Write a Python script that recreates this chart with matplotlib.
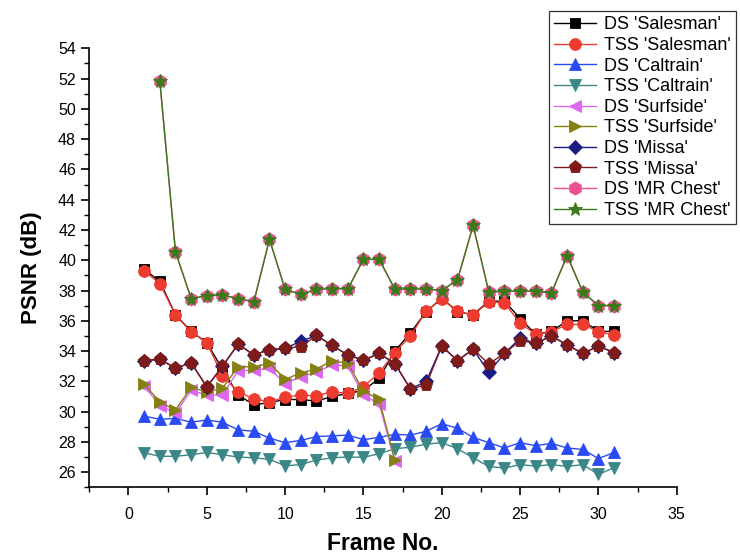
import numpy as np
import matplotlib.pyplot as plt
from matplotlib.ticker import MultipleLocator

plt.rcParams['font.family'] = ['Liberation Sans', 'DejaVu Sans']

# frame numbers
frames = list(range(1, 32))
frames_surf = list(range(1, 18))
frames_chest = list(range(2, 32))

# PSNR values (dB)
ds_salesman = [39.4, 38.6, 36.4, 35.3, 34.55, 32.8, 31.1, 30.45, 30.6, 30.8, 30.8,
               30.7, 31.0, 31.2, 31.4, 32.2, 34.0, 35.2, 36.6, 37.5, 36.6, 36.4,
               37.3, 37.3, 36.15, 35.1, 35.3, 36.0, 36.0, 35.3, 35.3]
tss_salesman = [39.3, 38.46, 36.37, 35.28, 34.55, 32.36, 31.32, 30.84, 30.66, 30.95,
                31.1, 31.04, 31.32, 31.2, 31.65, 32.57, 33.9, 35.0, 36.64, 37.43,
                36.64, 36.37, 37.25, 37.19, 35.83, 35.12, 35.28, 35.76, 35.76,
                35.28, 35.06]
ds_caltrain = [29.7, 29.5, 29.55, 29.3, 29.45, 29.3, 28.8, 28.7, 28.25, 27.95, 28.1,
               28.35, 28.4, 28.45, 28.15, 28.3, 28.5, 28.45, 28.7, 29.2, 28.9, 28.3,
               27.95, 27.6, 27.95, 27.75, 27.9, 27.6, 27.5, 26.9, 27.3]
tss_caltrain = [27.28, 27.05, 27.05, 27.15, 27.3, 27.15, 27.0, 26.95, 26.85, 26.42,
                26.5, 26.8, 26.95, 27.0, 26.98, 27.22, 27.55, 27.65, 27.85, 27.95,
                27.55, 26.95, 26.38, 26.27, 26.5, 26.4, 26.5, 26.38, 26.5, 25.85, 26.3]
ds_surfside = [31.7, 30.4, 29.9, 31.4, 31.1, 31.1, 32.7, 32.75, 32.85, 31.85, 32.3,
               32.6, 33.1, 33.0, 31.1, 30.5, 26.75]
tss_surfside = [31.83, 30.63, 30.1, 31.6, 31.3, 31.55, 32.97, 32.95, 33.2, 32.14,
                32.55, 32.83, 33.35, 33.19, 31.35, 30.82, 26.82]
ds_missa = [33.34, 33.48, 32.86, 33.23, 31.63, 33.0, 34.46, 33.74, 34.1, 34.18, 34.65,
            35.03, 34.37, 33.74, 33.39, 33.85, 33.17, 31.5, 32.0, 34.33, 33.37,
            34.12, 32.6, 33.85, 34.85, 34.51, 35.0, 34.4, 33.85, 34.33, 33.9]
tss_missa = [33.34, 33.48, 32.86, 33.23, 31.63, 33.0, 34.46, 33.74, 34.1, 34.18, 34.3,
             35.03, 34.37, 33.74, 33.39, 33.85, 33.17, 31.5, 31.76, 34.33, 33.37,
             34.12, 33.15, 33.85, 34.69, 34.51, 35.0, 34.4, 33.85, 34.33, 33.9]
mr_chest = [51.86, 40.55, 37.47, 37.65, 37.7, 37.47, 37.25, 41.38, 38.07, 37.76,
            38.07, 38.13, 38.1, 40.06, 40.06, 38.09, 38.1, 38.1, 38.0, 38.7, 42.3,
            37.9, 37.95, 37.95, 37.95, 37.85, 40.3, 37.9, 37.0, 37.0]

series = [
    ("DS 'Salesman'", frames, ds_salesman, 's', '#000000', 7.5),
    ("TSS 'Salesman'", frames, tss_salesman, 'o', '#ee3b2f', 8.5),
    ("DS 'Caltrain'", frames, ds_caltrain, '^', '#2a4bf4', 8.5),
    ("TSS 'Caltrain'", frames, tss_caltrain, 'v', '#3b8686', 8.5),
    ("DS 'Surfside'", frames_surf, ds_surfside, '<', '#dd66f0', 8.5),
    ("TSS 'Surfside'", frames_surf, tss_surfside, '>', '#868012', 8.5),
    ("DS 'Missa'", frames, ds_missa, 'D', '#1b1b85', 7.5),
    ("TSS 'Missa'", frames, tss_missa, 'p', '#7d1a1a', 9.5),
    ("DS 'MR Chest'", frames_chest, mr_chest, 'h', '#e8508e', 9.5),
    ("TSS 'MR Chest'", frames_chest, mr_chest, '*', '#3b7a1a', 10),
]

fig = plt.figure(figsize=(7.4, 5.57), dpi=100)
ax = fig.add_axes([0.1207, 0.1251, 0.7939, 0.7882])

for label, xs, ys, mk, col, ms in series:
    ax.plot(xs, ys, marker=mk, color=col, markersize=ms, linewidth=1.0,
            markeredgewidth=0.6, label=label)

ax.set_xlim(-2.5, 35)
ax.set_ylim(25, 54)
ax.xaxis.set_major_locator(MultipleLocator(5))
ax.xaxis.set_minor_locator(MultipleLocator(2.5))
ax.yaxis.set_major_locator(MultipleLocator(2))
ax.yaxis.set_minor_locator(MultipleLocator(1))
ax.set_yticks(np.arange(26, 55, 2))
ax.spines['top'].set_visible(False)
ax.spines['right'].set_visible(False)
ax.tick_params(which='major', direction='out', length=6, width=1.2, labelsize=11.5)
ax.tick_params(which='minor', direction='out', length=3.5, width=1.0)
ax.tick_params(axis='x', pad=8)
for s in ['left', 'bottom']:
    ax.spines[s].set_linewidth(1.2)

ax.set_xlabel('Frame No.', fontsize=16.5, fontweight='bold', va='baseline')
ax.xaxis.set_label_coords(0.5, -0.143)
ax.set_ylabel('PSNR (dB)', fontsize=16, fontweight='bold')
ax.yaxis.set_label_coords(-0.08, 0.5)

leg = ax.legend(loc='upper left', bbox_to_anchor=(549 / 740, 1 - 11 / 557),
                bbox_transform=fig.transFigure, fontsize=13, frameon=True,
                fancybox=False, labelspacing=0.2, handlelength=2.3,
                handletextpad=0.45, borderpad=0.3, borderaxespad=0)
leg.get_frame().set_edgecolor('black')
leg.get_frame().set_linewidth(0.9)

fig.savefig('out.png', dpi=100)
